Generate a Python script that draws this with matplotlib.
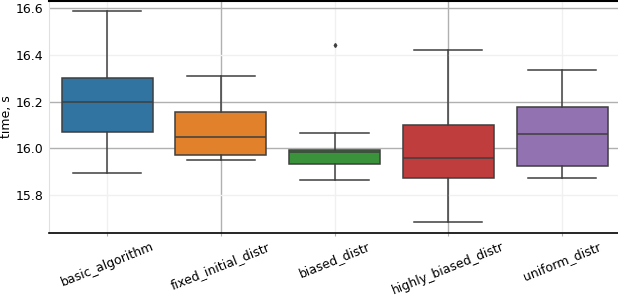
import matplotlib
matplotlib.use("Agg")
import matplotlib.pyplot as plt

# box statistics
names = ["basic_algorithm", "fixed_initial_distr", "biased_distr",
         "highly_biased_distr", "uniform_distr"]
q1 = [16.071, 15.970, 15.931, 15.871, 15.923]
med = [16.200, 16.047, 15.983, 15.957, 16.060]
q3 = [16.303, 16.158, 15.995, 16.098, 16.179]
whislo = [15.894, 15.951, 15.863, 15.685, 15.874]
whishi = [16.590, 16.310, 16.064, 16.423, 16.334]
fliers = [[], [], [16.442], [], []]
colors = ["#3274a1", "#e1812c", "#3a923a", "#c03d3e", "#9372b2"]

stats = []
for i in range(len(names)):
    stats.append(dict(label=names[i], q1=q1[i], med=med[i], q3=q3[i],
                      whislo=whislo[i], whishi=whishi[i], fliers=fliers[i]))

fig = plt.figure(figsize=(6.18, 3.0), dpi=100)
ax = fig.add_axes([49 / 618, 67 / 300, 570 / 618, 232.5 / 300])

line = dict(color="#3f3f3f", linewidth=1.1)
bp = ax.bxp(stats, positions=range(len(names)), widths=0.8, patch_artist=True,
            boxprops=dict(edgecolor="#3f3f3f", linewidth=1.1),
            whiskerprops=line, capprops=line, medianprops=line,
            flierprops=dict(marker="d", markersize=2, markerfacecolor="#3f3f3f",
                            markeredgecolor="#3f3f3f"),
            capwidths=0.6)
for patch, c in zip(bp["boxes"], colors):
    patch.set_facecolor(c)

ax.set_xlim(-0.51, 4.5)
ax.set_ylim(15.637, 16.634)
ax.set_yticks([15.8, 16.0, 16.2, 16.4, 16.6])
ax.set_xticks(range(len(names)))
ax.set_xticklabels(names, rotation=22, fontsize=9)
ax.tick_params(axis="y", labelsize=9, length=0, pad=4)
ax.tick_params(axis="x", length=2, color="#b0b0b0", pad=3)
ax.set_ylabel("time, s", fontsize=9)
ax.yaxis.set_label_coords(-0.063, 0.5)

ax.grid(True, color="#b0b0b0", linewidth=1)
# faint gridlines as in the picture
for gl, strong in zip(ax.get_ygridlines(), [False, True, True, False, True]):
    if not strong:
        gl.set_color("#f0f0f0")
for gl, strong in zip(ax.get_xgridlines(), [False, True, False, True, False]):
    if not strong:
        gl.set_color("#f0f0f0")

ax.spines["right"].set_visible(False)
ax.spines["left"].set_color("#e0e0e0")
ax.spines["top"].set_linewidth(1.5)
ax.spines["bottom"].set_linewidth(1.2)

fig.savefig("out.png", dpi=100)
